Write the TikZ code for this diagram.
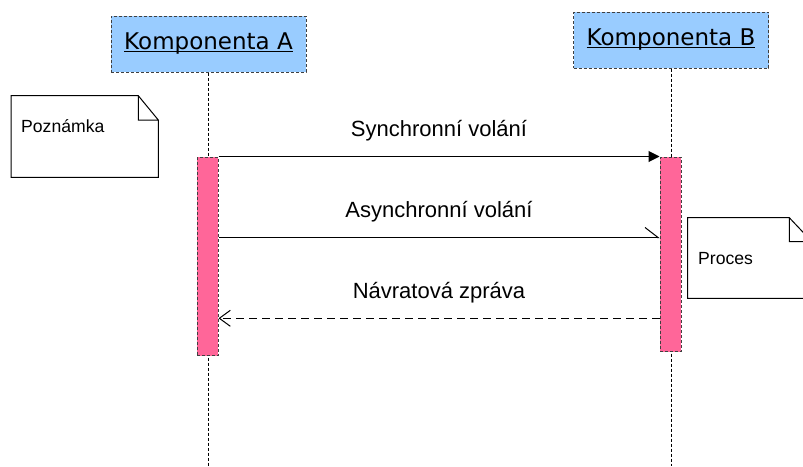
\documentclass[tikz,border=0pt]{standalone}
\usepackage{fontspec}
\setmainfont{Liberation Sans}
\newfontfamily\compfont{DejaVu Sans}
\usetikzlibrary{arrows.meta,positioning}

\definecolor{compblue}{HTML}{99CCFF}
\definecolor{actpink}{HTML}{FF6699}

% podtrzeny nazev komponenty
\newcommand\compname[1]{\leavevmode\setbox0\hbox{#1}\rlap{\vrule height -1.2pt depth 2.2pt width \wd0}\box0}

\tikzset{
  comp/.style={draw=black!75, dash pattern=on 3pt off 2pt, fill=compblue,
    minimum width=195pt, minimum height=56pt, inner sep=0pt,
    font=\compfont\fontsize{23}{27}\selectfont},
  act/.style={draw=black!75, dash pattern=on 3pt off 2pt, fill=actpink,
    minimum width=21pt, inner sep=0pt},
  lifeline/.style={dash pattern=on 3pt off 2pt},
  msg/.style={font=\fontsize{22}{26}\selectfont, inner sep=0pt, above=15pt},
  notetext/.style={font=\fontsize{17.6}{21}\selectfont, inner sep=0pt, anchor=base west},
  sync/.style={-{Triangle[length=11pt,width=11pt]}},
  async/.style={-{Straight Barb[harpoon,length=13pt,width=20pt]}},
  reply/.style={-{Straight Barb[length=11pt,width=16pt]}, dash pattern=on 8pt off 5pt},
}

\begin{document}
\begin{tikzpicture}[x=1pt, y=-1pt, line width=1pt]
\clip (0,0) rectangle (803,466);

\node[comp] (kompA) at (208.5,44) {\compname{Komponenta A}};
\node[comp] (kompB) at (671,40) {\compname{Komponenta B}};

\coordinate (endA) at (kompA.south |- 0,466);
\coordinate (endB) at (kompB.south |- 0,466);
\draw[lifeline] (kompA.south) -- (endA);
\draw[lifeline] (kompB.south) -- (endB);

\node[act, minimum height=198.5pt, anchor=north] (actA) at (207.5,156.5) {};
\node[act, minimum height=194.5pt, anchor=north] (actB) at (670.5,156.5) {};

% zpravy
\draw[sync] (actA.north east) -- node[msg]{Synchronní volání} (actB.north west);
\coordinate (asA) at (actA.east |- 0,237.5);
\coordinate (asB) at (actB.west |- 0,237.5);
\draw[async] (asA) -- node[msg]{Asynchronní volání} (asB);
\coordinate (reA) at (actA.east |- 0,318.3);
\coordinate (reB) at (actB.west |- 0,318.3);
\draw[reply] (reB) -- node[msg]{Návratová zpráva} (reA);

% poznamky
\draw (11,95.7) -- (138.3,95.7) -- (158.3,120) -- (158.3,177.3) -- (11,177.3) -- cycle
      (138.3,95.7) -- (138.3,120) -- (158.3,120);
\node[notetext] (pozn) at (20.7,132.7) {Poznámka};
\draw (687.7,217.7) -- (789.3,217.7) -- (812,241.7) -- (812,298.3) -- (687.7,298.3) -- cycle
      (789.3,217.7) -- (789.3,241.7) -- (812,241.7);
\node[notetext] (proc) at (697.7,264) {Proces};

\end{tikzpicture}
\end{document}
